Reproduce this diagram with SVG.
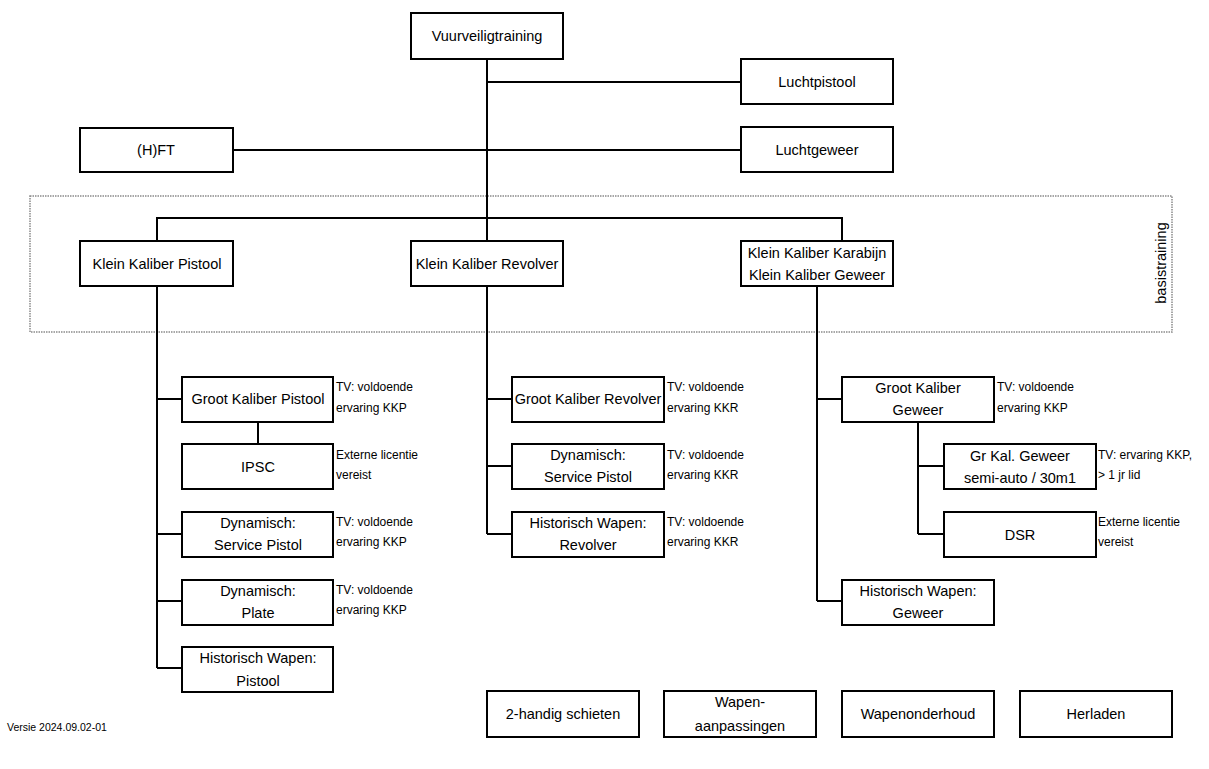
<svg xmlns="http://www.w3.org/2000/svg" width="1209" height="769" viewBox="0 0 1209 769">
<style>
.b{fill:#fff;stroke:#000;stroke-width:2}
.t{font-family:"Liberation Sans",Arial,sans-serif;font-size:14.5px;fill:#000;text-anchor:middle}
.a{font-family:"Liberation Sans",Arial,sans-serif;font-size:12px;fill:#000}
.c{fill:none;stroke:#000;stroke-width:2}
</style>
<rect width="1209" height="769" fill="#fff"/>
<rect id="basistraining" x="30" y="196" width="1142" height="136" fill="none" stroke="#8a8a8a" stroke-width="1.5" stroke-dasharray="1.5 1"/>
<text class="t" font-size="13.5" transform="translate(1166,263) rotate(-90)">basistraining</text>
<g id="connectors" class="c">
<path d="M487 59V241"/>
<path d="M487 82H741"/>
<path d="M233 150H741"/>
<path d="M157 241V218H842V241"/>
<path d="M157 286V668M157 399H182M157 534H182M157 601H182M157 668H182"/>
<path d="M258 422V444"/>
<path d="M487 286V534M487 399H512M487 466H512M487 534H512"/>
<path d="M817 286V601M817 399H842M817 601H842"/>
<path d="M918 422V534M918 466H944M918 534H944"/>
</g>
<g id="vvt"><rect class="b" x="411" y="13" width="152" height="46"/><text class="t" x="487" y="41">Vuurveiligtraining</text></g>
<g id="luchtpistool"><rect class="b" x="741" y="59" width="152" height="45"/><text class="t" x="817" y="87">Luchtpistool</text></g>
<g id="luchtgeweer"><rect class="b" x="741" y="127" width="152" height="45"/><text class="t" x="817" y="155">Luchtgeweer</text></g>
<g id="hft"><rect class="b" x="80" y="128" width="153" height="44"/><text class="t" x="156" y="155">(H)FT</text></g>
<g id="kkp"><rect class="b" x="80" y="241" width="153" height="45"/><text class="t" x="157" y="269">Klein Kaliber Pistool</text></g>
<g id="kkr"><rect class="b" x="411" y="241" width="152" height="45"/><text class="t" x="487" y="269">Klein Kaliber Revolver</text></g>
<g id="kkk"><rect class="b" x="741" y="241" width="152" height="45"/><text class="t" x="817" y="258">Klein Kaliber Karabijn</text><text class="t" x="817" y="280">Klein Kaliber Geweer</text></g>
<g id="gkp"><rect class="b" x="182" y="377" width="151" height="45"/><text class="t" x="258" y="404">Groot Kaliber Pistool</text><text class="a" x="336" y="391">TV: voldoende</text><text class="a" x="336" y="412">ervaring KKP</text></g>
<g id="ipsc"><rect class="b" x="182" y="444" width="151" height="45"/><text class="t" x="258" y="472">IPSC</text><text class="a" x="336" y="459">Externe licentie</text><text class="a" x="336" y="479">vereist</text></g>
<g id="dsp"><rect class="b" x="182" y="512" width="151" height="45"/><text class="t" x="258" y="528">Dynamisch:</text><text class="t" x="258" y="550">Service Pistol</text><text class="a" x="336" y="526">TV: voldoende</text><text class="a" x="336" y="546">ervaring KKP</text></g>
<g id="dpl"><rect class="b" x="182" y="580" width="151" height="45"/><text class="t" x="258" y="596">Dynamisch:</text><text class="t" x="258" y="618">Plate</text><text class="a" x="336" y="594">TV: voldoende</text><text class="a" x="336" y="614">ervaring KKP</text></g>
<g id="hwp"><rect class="b" x="182" y="647" width="151" height="45"/><text class="t" x="258" y="663">Historisch Wapen:</text><text class="t" x="258" y="686">Pistool</text></g>
<g id="gkr"><rect class="b" x="512" y="377" width="152" height="45"/><text class="t" x="588" y="404">Groot Kaliber Revolver</text><text class="a" x="667" y="391">TV: voldoende</text><text class="a" x="667" y="412">ervaring KKR</text></g>
<g id="dspr"><rect class="b" x="512" y="444" width="152" height="45"/><text class="t" x="588" y="460">Dynamisch:</text><text class="t" x="588" y="482">Service Pistol</text><text class="a" x="667" y="459">TV: voldoende</text><text class="a" x="667" y="479">ervaring KKR</text></g>
<g id="hwr"><rect class="b" x="512" y="512" width="152" height="45"/><text class="t" x="588" y="528">Historisch Wapen:</text><text class="t" x="588" y="550">Revolver</text><text class="a" x="667" y="526">TV: voldoende</text><text class="a" x="667" y="546">ervaring KKR</text></g>
<g id="gkg"><rect class="b" x="842" y="377" width="152" height="45"/><text class="t" x="918" y="393">Groot Kaliber</text><text class="t" x="918" y="415">Geweer</text><text class="a" x="997" y="391">TV: voldoende</text><text class="a" x="997" y="412">ervaring KKP</text></g>
<g id="grkal"><rect class="b" x="944" y="444" width="152" height="45"/><text class="t" x="1020" y="461">Gr Kal. Geweer</text><text class="t" x="1020" y="483">semi-auto / 30m1</text><text class="a" x="1098" y="459">TV: ervaring KKP,</text><text class="a" x="1098" y="479">&gt; 1 jr lid</text></g>
<g id="dsr"><rect class="b" x="944" y="512" width="152" height="45"/><text class="t" x="1020" y="540">DSR</text><text class="a" x="1098" y="526">Externe licentie</text><text class="a" x="1098" y="546">vereist</text></g>
<g id="hwg"><rect class="b" x="842" y="580" width="152" height="45"/><text class="t" x="918" y="596">Historisch Wapen:</text><text class="t" x="918" y="618">Geweer</text></g>
<g id="handig"><rect class="b" x="487" y="691" width="152" height="46"/><text class="t" x="563" y="719">2-handig schieten</text></g>
<g id="aanpassingen"><rect class="b" x="664" y="691" width="152" height="46"/><text class="t" x="740" y="707">Wapen-</text><text class="t" x="740" y="731">aanpassingen</text></g>
<g id="onderhoud"><rect class="b" x="842" y="691" width="152" height="46"/><text class="t" x="918" y="719">Wapenonderhoud</text></g>
<g id="herladen"><rect class="b" x="1020" y="691" width="152" height="46"/><text class="t" x="1096" y="719">Herladen</text></g>
<text id="versie" x="7" y="731" font-family="Liberation Sans,Arial,sans-serif" font-size="10.5">Versie 2024.09.02-01</text>
</svg>
